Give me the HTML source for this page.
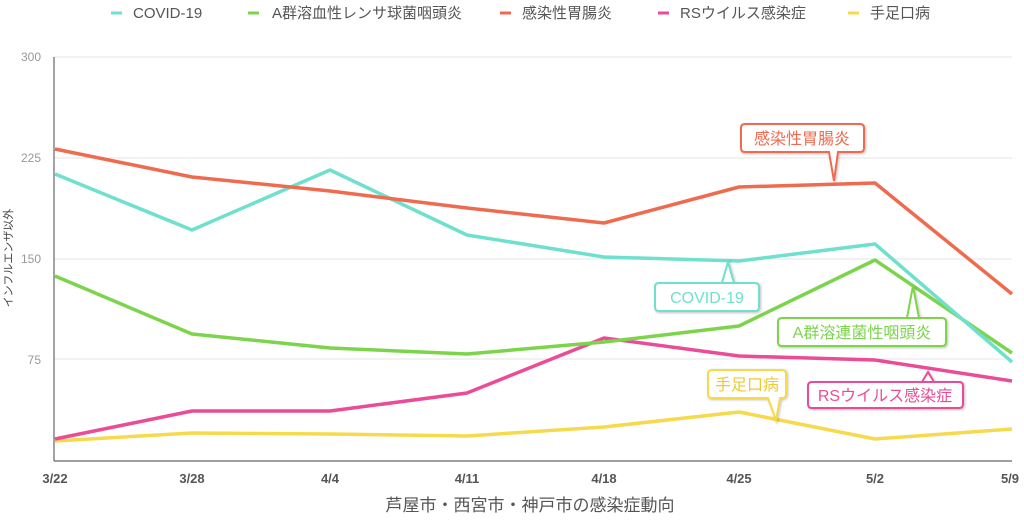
<!DOCTYPE html>
<html><head><meta charset="utf-8"><style>
body{margin:0;background:#fff;}
svg text{font-family:"Liberation Sans","Noto Sans CJK JP",sans-serif;}
</style></head><body>
<svg width="1024" height="519" viewBox="0 0 1024 519" xmlns="http://www.w3.org/2000/svg">
<defs><filter id="sh" x="-10%" y="-20%" width="130%" height="150%"><feDropShadow dx="1" dy="1" stdDeviation="1.2" flood-color="#000" flood-opacity="0.25"/></filter></defs>
<!-- legend -->
<g font-size="15" fill="#555">
<line x1="111" y1="13" x2="122" y2="13" stroke="#6ee0cd" stroke-width="3"/><text x="133" y="18">COVID-19</text>
<line x1="248" y1="13" x2="259" y2="13" stroke="#7cd44c" stroke-width="3"/><text x="272" y="18">A群溶血性レンサ球菌咽頭炎</text>
<line x1="500" y1="13" x2="511" y2="13" stroke="#ef6b50" stroke-width="3"/><text x="522" y="18">感染性胃腸炎</text>
<line x1="658" y1="13" x2="669" y2="13" stroke="#ea4c96" stroke-width="3"/><text x="680" y="18">RSウイルス感染症</text>
<line x1="848" y1="13" x2="859" y2="13" stroke="#f7d94c" stroke-width="3"/><text x="870" y="18">手足口病</text>
</g>
<!-- grid -->
<g stroke="#e6e6e6" stroke-width="1">
<line x1="54" y1="57" x2="1012" y2="57"/><line x1="54" y1="158" x2="1012" y2="158"/>
<line x1="54" y1="259" x2="1012" y2="259"/><line x1="54" y1="359" x2="1012" y2="359"/>
</g>
<g font-size="12" fill="#999" text-anchor="end">
<text x="41" y="61">300</text><text x="41" y="162">225</text><text x="41" y="263">150</text><text x="41" y="364">75</text>
</g>
<line x1="54" y1="57" x2="54" y2="461" stroke="#666" stroke-width="1.2"/>
<line x1="54" y1="461" x2="1012" y2="461" stroke="#666" stroke-width="1.2"/>
<g font-size="13" font-weight="bold" fill="#555" text-anchor="middle">
<text x="55" y="483">3/22</text><text x="192" y="483">3/28</text><text x="330" y="483">4/4</text><text x="467" y="483">4/11</text>
<text x="604" y="483">4/18</text><text x="739" y="483">4/25</text><text x="875" y="483">5/2</text><text x="1010" y="483">5/9</text>
</g>
<text transform="translate(12,258) rotate(-90)" font-size="11" fill="#444" text-anchor="middle">インフルエンザ以外</text>
<text x="530" y="511" font-size="17" fill="#555" text-anchor="middle">芦屋市・西宮市・神戸市の感染症動向</text>
<!-- series -->
<g fill="none" stroke-width="3.5" stroke-linejoin="round">
<polyline stroke="#f7d94c" points="55,441 192,433 330,434 467,436 604,427 739,412 875,439 1012,429"/>
<polyline stroke="#ea4c96" points="55,439 192,411 330,411 467,393 604,338 739,356 875,360 1012,381"/>
<polyline stroke="#7cd44c" points="55,276 192,334 330,348 467,354 604,342 739,326 875,260 1012,353"/>
<polyline stroke="#6ee0cd" points="55,174 192,230 330,170 467,235 604,257 739,261 875,244 1012,362"/>
<polyline stroke="#ef6b50" points="55,149 192,177 330,191 467,208 604,223 739,187 875,183 1012,294"/>
</g>
<!-- callouts -->
<g stroke-width="2" fill="#fff" filter="url(#sh)">
<path d="M745,124 H860 Q864,124 864,128 V148 Q864,152 860,152 H838 L834,181 L829,152 H745 Q741,152 741,148 V128 Q741,124 745,124Z" stroke="#ef6b50"/>
<path d="M659,283 H755 Q759,283 759,287 V307 Q759,311 755,311 H659 Q655,311 655,307 V287 Q655,283 659,283 H722 L728,262 L734,283" stroke="#6ee0cd"/>
<path d="M782,318 H942 Q946,318 946,322 V342 Q946,346 942,346 H782 Q778,346 778,342 V322 Q778,318 782,318 H907 L913,286 L919,318" stroke="#7cd44c"/>
<path d="M812,382 H959 Q963,382 963,386 V404 Q963,408 959,408 H812 Q808,408 808,404 V386 Q808,382 812,382 H922 L928,372 L934,382" stroke="#ea4c96"/>
<path d="M712,370 H782 Q786,370 786,374 V394 Q786,398 782,398 H780 L776,420 L768,398 H712 Q708,398 708,394 V374 Q708,370 712,370Z" stroke="#f7d94c"/>
</g>
<g font-size="16" text-anchor="middle">
<text x="802" y="144" fill="#ef6b50">感染性胃腸炎</text>
<text x="707" y="303" fill="#6ee0cd">COVID-19</text>
<text x="862" y="338" fill="#7cd44c">A群溶連菌性咽頭炎</text>
<text x="885" y="401" fill="#ea4c96">RSウイルス感染症</text>
<text x="747" y="390" fill="#f0c830">手足口病</text>
</g>
</svg>
</body></html>
